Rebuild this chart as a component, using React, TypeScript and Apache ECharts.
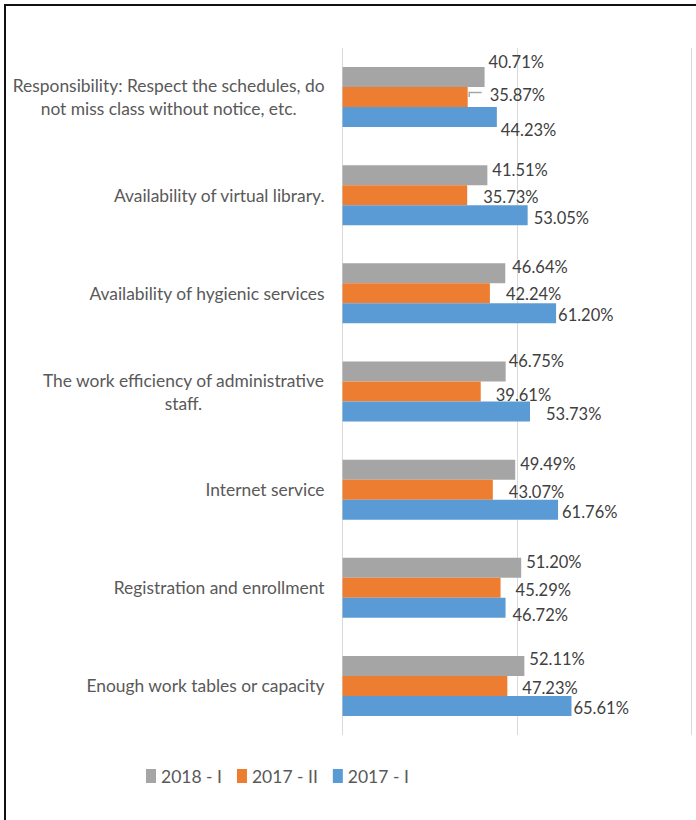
import React, { useEffect, useRef } from 'react';
import * as echarts from 'echarts';

const categories = [
  'Responsibility: Respect the schedules, do\nnot miss class without notice, etc.',
  'Availability of virtual library.',
  'Availability of hygienic services',
  'The work efficiency of administrative\nstaff.',
  'Internet service',
  'Registration and enrollment',
  'Enough work tables or capacity',
];
const seriesNames = ['2018 - I', '2017 - II', '2017 - I'];
const values2018I = [0.4071, 0.4151, 0.4664, 0.4675, 0.4949, 0.512, 0.5211];
const values2017II = [0.3587, 0.3573, 0.4224, 0.3961, 0.4307, 0.4529, 0.4723];
const values2017I = [0.4423, 0.5305, 0.612, 0.5373, 0.6176, 0.4672, 0.6561];

// label displacement (px) relative to the end of each bar
const labelOffsets2018I = [[4, -15], [5, -5], [7, -6], [3, -11], [5, -6], [5, -6], [5, -7]];
const labelOffsets2017II = [[22, -2], [16, 2], [16, 1], [15, 3], [16, 2], [15, 2], [15, 2]];
const labelOffsets2017I = [[4, 13], [6, 3], [2, 2], [16, 2], [4, 2], [7, 7], [2, 2]];

const colors = ['#a5a5a5', '#ed7d31', '#5b9bd5'];
const FONT = 'Lato';

export default function App() {
  const ref = useRef<HTMLDivElement>(null);
  useEffect(() => {
    document.body.style.margin = '0';
    const chart = echarts.init(ref.current as HTMLDivElement, null, { renderer: 'svg' });
    const mk = (name: string, vals: number[], offs: number[][], color: string) => ({
      type: 'bar',
      name,
      barWidth: 20,
      barGap: '0%',
      itemStyle: { color },
      label: {
        show: true,
        position: 'right',
        distance: 0,
        color: '#404040',
        fontSize: 16.5,
        fontFamily: FONT,
        formatter: (p: any) => (p.value * 100).toFixed(2) + '%',
      },
      data: vals.map((v, i) => ({ value: v, label: { offset: offs[i] } })),
    });
    chart.setOption({
      animation: false,
      grid: { left: 342.5, top: 48, width: 349, height: 687, containLabel: false },
      legend: {
        data: seriesNames,
        left: 141,
        top: 762,
        icon: 'rect',
        itemWidth: 10,
        itemHeight: 14,
        itemGap: 15,
        textStyle: { fontSize: 17.5, fontFamily: FONT, color: '#595959' },
      },
      xAxis: {
        type: 'value',
        min: 0,
        max: 1,
        interval: 0.5,
        axisLabel: { show: false },
        axisLine: { show: false },
        axisTick: { show: false },
        splitLine: { show: true, lineStyle: { color: '#d9d9d9', width: 1 } },
      },
      yAxis: {
        type: 'category',
        data: categories,
        inverse: true,
        axisLine: { show: false },
        axisTick: { show: false },
        axisLabel: {
          margin: 18,
          color: '#595959',
          fontSize: 17.4,
          fontFamily: FONT,
          lineHeight: 23,
          formatter: (v: string) =>
            v.indexOf('\n') >= 0 ? v.split('\n').map((s) => `{c|${s}}`).join('\n') : v,
          rich: {
            c: { align: 'center', color: '#595959', fontSize: 17.4, fontFamily: FONT, lineHeight: 23 },
          },
        },
      },
      series: [
        mk(seriesNames[0], values2018I, labelOffsets2018I, colors[0]),
        mk(seriesNames[1], values2017II, labelOffsets2017II, colors[1]),
        mk(seriesNames[2], values2017I, labelOffsets2017I, colors[2]),
      ],
      graphic: [
        { id: 'bt', type: 'line', shape: { x1: 4, y1: 5, x2: 696, y2: 5 }, style: { stroke: '#111', lineWidth: 2 } },
        { id: 'bl', type: 'line', shape: { x1: 5, y1: 4, x2: 5, y2: 820 }, style: { stroke: '#111', lineWidth: 2 } },
      ],
    });
    const p = chart.convertToPixel({ xAxisIndex: 0, yAxisIndex: 0 }, [values2017II[0], 0]) as number[];
    if (p) {
      chart.setOption({
        graphic: [
          {
            id: 'leader',
            type: 'polyline',
            shape: { points: [[p[0] + 1.5, p[1]], [p[0] + 1.5, p[1] - 4.5], [p[0] + 14, p[1] - 4.5]] },
            style: { stroke: '#a6a6a6', lineWidth: 1.5, fill: 'none' },
          },
        ],
      });
    }
    return () => chart.dispose();
  }, []);
  return <div ref={ref} style={{ width: 696, height: 820 }} />;
}
